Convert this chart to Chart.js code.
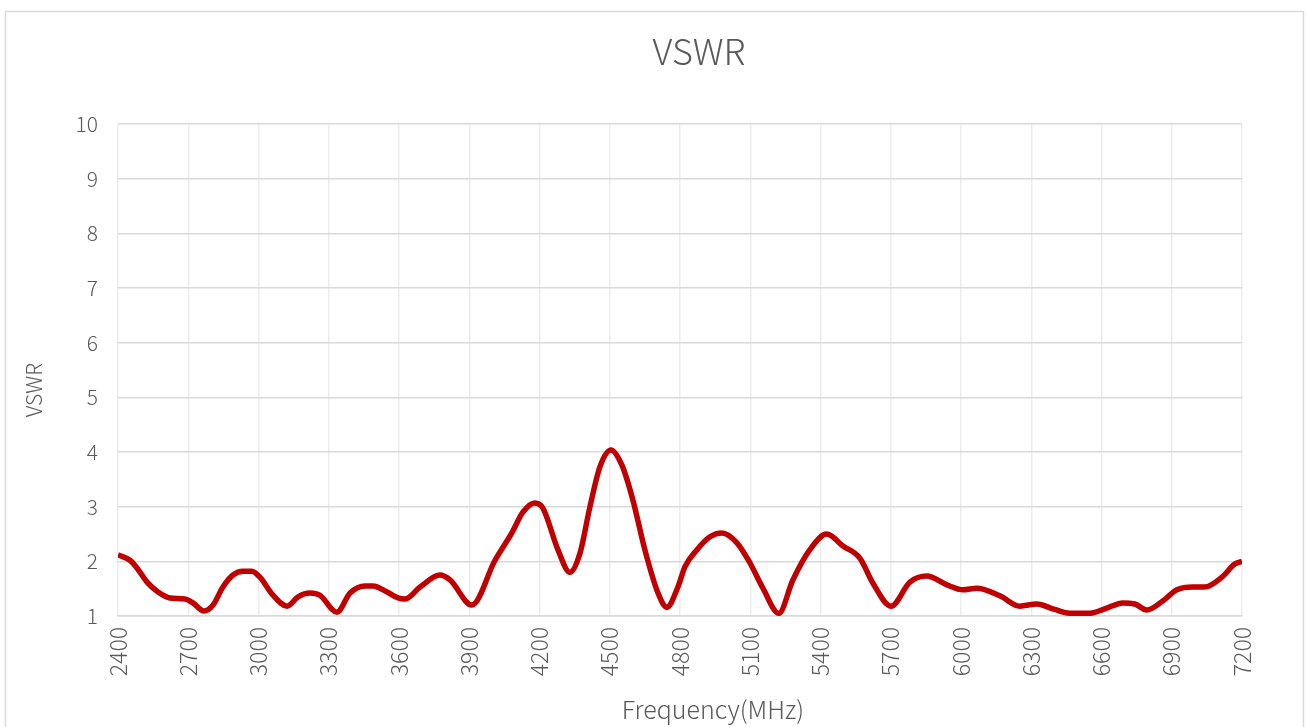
<!DOCTYPE html>
<html>
<head>
<meta charset="utf-8">
<script src="https://cdn.jsdelivr.net/npm/chart.js@4.4.1/dist/chart.umd.min.js"></script>
<style>
  html, body { margin: 0; padding: 0; background: #ffffff; }
  #wrap { position: relative; width: 1306px; height: 727px; }
</style>
</head>
<body>
<div id="wrap"><canvas id="c" width="1306" height="727"></canvas></div>
<script>
// Data
const chartTitle = "VSWR";
const xAxisTitle = "Frequency(MHz)";
const yAxisTitle = "VSWR";
const xTicks = [2400, 2700, 3000, 3300, 3600, 3900, 4200, 4500, 4800, 5100, 5400, 5700, 6000, 6300, 6600, 6900, 7200];
const yTicks = [1, 2, 3, 4, 5, 6, 7, 8, 9, 10];

const freqMHz = [
  2400, 2451, 2481, 2524, 2571, 2622, 2686, 2720, 2767, 2806,
  2848, 2891, 2934, 2972, 3006, 3062, 3122, 3169, 3220, 3262,
  3335, 3391, 3455, 3489, 3549, 3596, 3625, 3690, 3775, 3818,
  3911, 4010, 4082, 4129, 4180, 4214, 4279, 4330, 4373, 4415,
  4458, 4505, 4552, 4599, 4650, 4706, 4744, 4791, 4821, 4872,
  4928, 4979, 5043, 5099, 5154, 5222, 5282, 5354, 5427, 5496,
  5568, 5624, 5701, 5782, 5854, 5940, 6008, 6068, 6166, 6251,
  6323, 6400, 6465, 6550, 6620, 6691, 6742, 6794, 6860, 6922,
  6990, 7040, 7114, 7169, 7200
];
const vswr = [
  2.12, 2.02, 1.88, 1.62, 1.44, 1.33, 1.31, 1.24, 1.09, 1.20,
  1.53, 1.75, 1.82, 1.82, 1.71, 1.38, 1.18, 1.35, 1.42, 1.38,
  1.07, 1.42, 1.55, 1.55, 1.44, 1.33, 1.31, 1.53, 1.75, 1.66,
  1.20, 2.02, 2.52, 2.90, 3.07, 2.98, 2.21, 1.80, 2.15, 2.99,
  3.73, 4.04, 3.76, 3.12, 2.21, 1.42, 1.16, 1.53, 1.90, 2.21,
  2.45, 2.52, 2.34, 1.97, 1.51, 1.05, 1.66, 2.21, 2.50, 2.28,
  2.06, 1.60, 1.18, 1.62, 1.73, 1.57, 1.48, 1.51, 1.37, 1.18,
  1.22, 1.12, 1.05, 1.05, 1.14, 1.24, 1.22, 1.11, 1.27, 1.48,
  1.53, 1.53, 1.71, 1.95, 2.00
];

const points = freqMHz.map((f, i) => ({ x: f, y: vswr[i] }));
const FONT = "'Noto Sans CJK SC', 'Noto Sans', sans-serif";
const TEXT = "#595959";

const frame = {
  id: 'frame',
  beforeDraw(chart) {
    const ctx = chart.ctx;
    ctx.save();
    ctx.fillStyle = '#ffffff';
    ctx.fillRect(0, 0, chart.width, chart.height);
    ctx.strokeStyle = '#d9d9d9';
    ctx.lineWidth = 1.5;
    ctx.strokeRect(5.5, 11.5, 1298, 730);
    ctx.restore();
  }
};

// Shift title positions to match the reference placement
const titleShift = {
  id: 'titleShift',
  afterLayout(chart) {
    const tb = chart.titleBlock;
    if (tb) { tb.left += 19; tb.right += 19; }
    const xs = chart.scales.x;
    if (xs && !xs._shiftWrapped) {
      const orig = xs.drawTitle;
      xs.drawTitle = function () {
        const l = this.left, r = this.right;
        this.left = l + 33; this.right = r + 33;
        orig.apply(this, arguments);
        this.left = l; this.right = r;
      };
      xs._shiftWrapped = true;
    }
    const ys = chart.scales.y;
    if (ys && !ys._shiftWrapped) {
      const orig = ys.drawTitle;
      ys.drawTitle = function () {
        const t = this.top, b = this.bottom;
        this.top = t + 20; this.bottom = b + 20;
        orig.apply(this, arguments);
        this.top = t; this.bottom = b;
      };
      ys._shiftWrapped = true;
    }
  }
};

new Chart(document.getElementById('c'), {
  type: 'line',
  data: {
    datasets: [{
      label: chartTitle,
      data: points,
      borderColor: '#c00000',
      borderWidth: 5.5,
      pointRadius: 0,
      fill: false,
      tension: 0.4,
      cubicInterpolationMode: 'monotone'
    }]
  },
  options: {
    responsive: false,
    animation: false,
    layout: { padding: { left: 0, right: 64, top: 0, bottom: 0 } },
    plugins: {
      legend: { display: false },
      tooltip: { enabled: false },
      title: {
        display: true,
        text: chartTitle,
        fullSize: false,
        color: TEXT,
        font: { family: FONT, size: 36, weight: 300 },
        padding: { top: 30, bottom: 51 }
      }
    },
    scales: {
      x: {
        type: 'linear',
        min: 2400,
        max: 7200,
        afterBuildTicks(scale) { scale.ticks = xTicks.map(v => ({ value: v })); },
        afterFit(scale) { scale.height = 111; },
        ticks: {
          color: TEXT,
          font: { family: FONT, size: 23, weight: 300 },
          maxRotation: 90,
          minRotation: 90,
          padding: 11,
          autoSkip: false,
          callback: (v) => String(v)
        },
        grid: { color: '#ededed', lineWidth: 1.5, drawTicks: false },
        border: { color: '#d9d9d9', width: 1.5 },
        title: {
          display: true,
          text: xAxisTitle,
          color: TEXT,
          font: { family: FONT, size: 25, weight: 300 },
          padding: { top: 0, bottom: 3 }
        }
      },
      y: {
        min: 1,
        max: 10,
        afterBuildTicks(scale) { scale.ticks = yTicks.map(v => ({ value: v })); },
        afterFit(scale) { scale.width = 118; },
        ticks: {
          color: TEXT,
          font: { family: FONT, size: 21, weight: 300 },
          padding: 20,
          callback: (v) => String(v)
        },
        grid: { color: '#d9d9d9', lineWidth: 1.5, drawTicks: false },
        border: { display: false },
        title: {
          display: true,
          text: yAxisTitle,
          color: TEXT,
          font: { family: FONT, size: 21, weight: 300 },
          padding: { top: 21, bottom: 21 }
        }
      }
    }
  },
  plugins: [frame, titleShift]
});
</script>
</body>
</html>
